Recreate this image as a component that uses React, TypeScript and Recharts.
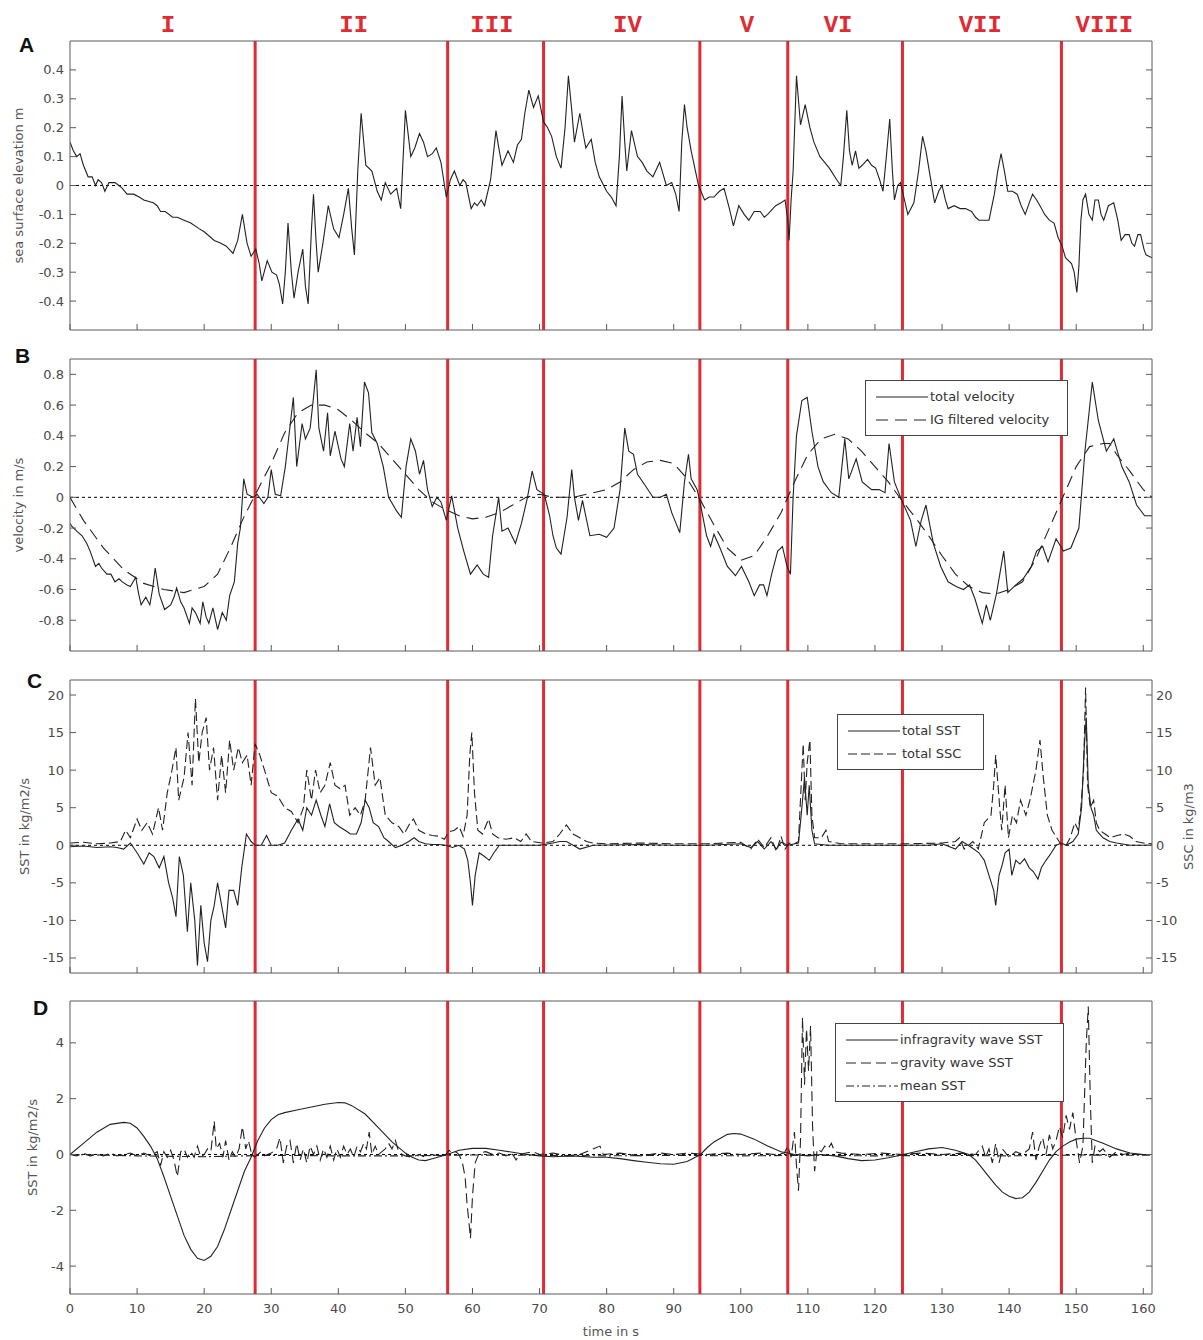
import { LineChart, Line, XAxis, YAxis, ReferenceLine, Legend } from 'recharts';

type Pt = [number, number];

const T_MAX = 161.3;
const TIME_TICKS = [0, 10, 20, 30, 40, 50, 60, 70, 80, 90, 100, 110, 120, 130, 140, 150, 160];

// phase boundaries (s) and the phase names drawn above panel A
const PHASE_BOUNDS = [27.6, 56.3, 70.6, 93.9, 107.0, 124.1, 147.8];
const PHASE_NAMES = ['I', 'II', 'III', 'IV', 'V', 'VI', 'VII', 'VIII'];
const PHASE_MID = [14.6, 42.3, 62.9, 83.1, 100.9, 114.5, 135.7, 154.2];

const ETA_TICKS = [-0.4, -0.3, -0.2, -0.1, 0, 0.1, 0.2, 0.3, 0.4];
const VEL_TICKS = [-0.8, -0.6, -0.4, -0.2, 0, 0.2, 0.4, 0.6, 0.8];
const FLUX_TICKS = [-15, -10, -5, 0, 5, 10, 15, 20];
const SPLIT_TICKS = [-4, -2, 0, 2, 4];

// A: sea surface elevation (m)
const ETA: Pt[] = [
	[0, 0.15], [0.5, 0.12], [1, 0.1], [1.5, 0.11], [2, 0.07], [2.7, 0.03], [3.3, 0.03], [3.8, 0], [4.2, 0.02], [4.7, 0.01],
	[5.2, -0.02], [5.8, 0.01], [6.7, 0.01], [7.3, 0], [7.8, -0.01], [8.5, -0.03], [9.5, -0.03], [10.3, -0.04], [11, -0.05],
	[12.4, -0.06], [13, -0.07], [13.5, -0.09], [14.2, -0.09], [15.3, -0.11], [16, -0.11], [17, -0.12], [18, -0.13],
	[19.3, -0.15], [20, -0.16], [21, -0.18], [21.5, -0.19], [22.5, -0.2], [23.3, -0.21], [24.3, -0.235], [25, -0.19],
	[25.7, -0.1], [26.4, -0.2], [27, -0.245], [27.7, -0.22], [28.2, -0.27], [28.6, -0.33], [29.4, -0.26], [30.1, -0.3],
	[30.8, -0.31], [31.2, -0.34], [31.7, -0.41], [32.1, -0.3], [32.5, -0.13], [33, -0.3], [33.4, -0.39], [34, -0.3],
	[34.7, -0.22], [35.1, -0.35], [35.5, -0.41], [36, -0.15], [36.3, -0.03], [36.7, -0.2], [37, -0.3], [37.7, -0.2],
	[38.5, -0.07], [39.3, -0.15], [40.1, -0.18], [40.8, -0.1], [41.5, -0.01], [42, -0.15], [42.4, -0.24], [42.9, 0.05],
	[43.4, 0.25], [44.1, 0.07], [45, 0.05], [45.8, -0.02], [46.4, -0.05], [47, 0.01], [47.8, -0.03], [48.7, -0.01],
	[49.3, -0.08], [50, 0.26], [50.8, 0.1], [51.4, 0.13], [52.1, 0.18], [52.7, 0.15], [53.3, 0.1], [54, 0.11], [54.6, 0.13],
	[55.3, 0.08], [56.1, -0.04], [56.7, 0.02], [57.3, 0.05], [58.1, 0], [58.6, 0.02], [59, 0.01], [59.8, -0.08], [60.3, -0.06],
	[60.7, -0.07], [61.3, -0.05], [61.8, -0.07], [62.7, 0.02], [63.5, 0.19], [64, 0.12], [64.4, 0.07], [65.3, 0.12],
	[66.1, 0.08], [66.7, 0.14], [67.3, 0.16], [67.8, 0.25], [68.4, 0.33], [69.1, 0.27], [69.8, 0.31], [70.6, 0.22],
	[71.2, 0.2], [71.8, 0.17], [72.5, 0.1], [73.2, 0.06], [73.8, 0.2], [74.3, 0.38], [74.8, 0.26], [75.2, 0.15], [76, 0.25],
	[76.5, 0.18], [76.9, 0.13], [77.7, 0.16], [78.3, 0.08], [78.9, 0.03], [80, -0.02], [80.7, -0.04], [81.4, -0.07],
	[81.9, 0.1], [82.3, 0.31], [82.7, 0.15], [83, 0.05], [83.7, 0.19], [84.6, 0.1], [85.3, 0.08], [86, 0.05], [86.9, 0.03],
	[87.9, 0.08], [88.4, 0.04], [88.9, 0], [89.7, 0.01], [90.3, -0.03], [90.8, -0.09], [91.2, 0.15], [91.6, 0.28], [92, 0.2],
	[92.6, 0.12], [93.7, 0], [94.6, -0.05], [95.3, -0.04], [96, -0.04], [96.8, -0.02], [97.5, -0.01], [98.3, -0.08],
	[98.9, -0.14], [99.7, -0.07], [100.5, -0.1], [101.2, -0.12], [102, -0.09], [102.9, -0.09], [103.5, -0.11], [104, -0.1],
	[105.2, -0.07], [106, -0.06], [106.6, -0.05], [107, -0.12], [107.2, -0.19], [107.5, -0.05], [107.8, 0.05], [108.3, 0.38],
	[108.9, 0.21], [109.6, 0.28], [110.3, 0.2], [110.9, 0.15], [111.8, 0.1], [112.5, 0.08], [113.2, 0.06], [114.3, 0.02],
	[114.9, 0], [115.3, 0.1], [115.8, 0.26], [116.2, 0.12], [116.6, 0.07], [117.1, 0.12], [117.6, 0.06], [118.1, 0.07],
	[118.9, 0.09], [119.5, 0.07], [120.1, 0.06], [120.7, 0.02], [121.2, -0.02], [121.7, 0.1], [122.2, 0.23], [122.6, 0.05],
	[122.9, -0.05], [123.4, 0], [123.8, 0.01], [124.4, -0.05], [124.9, -0.1], [125.8, -0.06], [126.5, 0.05], [127.1, 0.17],
	[127.6, 0.12], [128.1, 0.05], [128.9, -0.06], [129.5, -0.02], [130, 0], [130.5, -0.05], [130.9, -0.08], [131.8, -0.07],
	[132.7, -0.08], [133.5, -0.08], [134.4, -0.09], [135, -0.11], [135.5, -0.12], [136.3, -0.12], [137, -0.12],
	[137.8, -0.03], [138.3, 0.05], [138.8, 0.11], [139.3, 0.05], [139.8, -0.02], [140.5, -0.02], [141.2, -0.03],
	[141.8, -0.07], [142.4, -0.1], [143, -0.06], [143.5, -0.03], [144.1, -0.05], [144.6, -0.07], [145.3, -0.1], [146, -0.12],
	[146.7, -0.13], [147.3, -0.18], [147.9, -0.21], [148.4, -0.25], [149.3, -0.27], [149.7, -0.3], [150.1, -0.37],
	[150.4, -0.28], [150.7, -0.12], [151, -0.05], [151.4, -0.03], [151.9, -0.1], [152.4, -0.12], [152.8, -0.05],
	[153.3, -0.05], [153.7, -0.1], [154.1, -0.12], [154.8, -0.07], [155.6, -0.06], [156.2, -0.12], [156.7, -0.19],
	[157.3, -0.17], [157.9, -0.17], [158.3, -0.2], [158.7, -0.21], [159.2, -0.17], [159.6, -0.17], [160.1, -0.22],
	[160.4, -0.24], [161.3, -0.25],
];

// B: total velocity (m/s)
const VEL_TOTAL: Pt[] = [
	[0, -0.17], [0.3, -0.19], [1, -0.22], [1.8, -0.25], [2.5, -0.3], [3, -0.35], [3.8, -0.45], [4.3, -0.43], [4.7, -0.46],
	[5.5, -0.5], [6.1, -0.5], [6.7, -0.55], [7.3, -0.53], [7.8, -0.55], [8.5, -0.57], [9, -0.58], [9.8, -0.52], [10.2, -0.62],
	[10.6, -0.7], [11.3, -0.65], [11.9, -0.7], [12.3, -0.6], [12.7, -0.46], [13.3, -0.63], [14.1, -0.73], [15, -0.7],
	[15.5, -0.65], [15.9, -0.59], [16.5, -0.68], [17, -0.72], [17.8, -0.82], [18.2, -0.72], [18.7, -0.75], [19.4, -0.82],
	[19.8, -0.68], [20.3, -0.78], [20.7, -0.82], [21.3, -0.72], [22, -0.86], [22.7, -0.75], [23.3, -0.8], [23.8, -0.64],
	[24.5, -0.55], [25, -0.3], [25.4, -0.2], [25.9, 0.12], [26.4, 0.02], [27.3, 0], [27.9, 0.02], [28.9, -0.04], [29.5, 0],
	[30, 0.18], [30.6, 0.02], [31.4, 0.01], [32.1, 0.2], [32.9, 0.5], [33.3, 0.65], [33.8, 0.2], [34.6, 0.48], [35.1, 0.38],
	[35.8, 0.45], [36.3, 0.65], [36.7, 0.83], [37.1, 0.45], [37.8, 0.3], [38.4, 0.55], [38.8, 0.27], [39.5, 0.43],
	[40.4, 0.25], [40.9, 0.2], [41.7, 0.48], [42.2, 0.3], [42.8, 0.52], [43.3, 0.33], [43.9, 0.75], [44.5, 0.68], [45, 0.42],
	[45.8, 0.35], [46.7, 0.2], [47.5, 0], [48.7, -0.09], [49.4, -0.13], [50.1, 0.2], [50.8, 0.38], [51.5, 0.3], [52.1, 0.15],
	[52.7, 0.24], [53.3, 0.05], [54, -0.06], [54.7, 0], [55.3, -0.03], [56.1, -0.15], [56.9, 0.01], [57.8, -0.2],
	[58.7, -0.35], [59.7, -0.5], [60.7, -0.44], [61.6, -0.5], [62.4, -0.52], [63, -0.25], [63.9, 0], [64.4, -0.22],
	[65.3, -0.2], [66.4, -0.3], [67.3, -0.17], [68.2, 0], [68.9, 0.17], [69.6, 0.05], [70.7, 0.02], [71.5, -0.12],
	[72, -0.25], [72.5, -0.33], [73.2, -0.37], [74.1, -0.13], [74.8, 0.18], [75.2, 0], [75.8, -0.15], [76.4, -0.02],
	[77.5, -0.25], [78.9, -0.24], [80, -0.26], [81.1, -0.2], [82, 0.05], [82.7, 0.45], [83.3, 0.3], [84, 0.28], [84.6, 0.15],
	[85.7, 0.08], [86.9, 0], [88, 0], [88.9, 0.02], [89.7, -0.1], [90.9, -0.23], [91.6, 0.1], [92.2, 0.28], [92.6, 0.12],
	[93.5, 0.05], [94, -0.05], [94.9, -0.25], [95.5, -0.32], [96, -0.24], [96.9, -0.33], [98, -0.45], [99.2, -0.51],
	[100.1, -0.45], [101.2, -0.55], [102, -0.64], [102.8, -0.57], [103.4, -0.57], [103.9, -0.64], [104.6, -0.5],
	[105.5, -0.35], [106.2, -0.32], [106.9, -0.45], [107.4, -0.5], [107.8, 0], [108.3, 0.4], [109.1, 0.63], [109.9, 0.65],
	[110.6, 0.43], [111.5, 0.2], [112.3, 0.1], [113.5, 0.03], [114.6, 0], [115.5, 0.38], [116.1, 0.12], [117.2, 0.25],
	[118.1, 0.1], [119.5, 0.05], [120.6, 0.05], [121.5, 0.03], [122.1, 0.35], [122.9, 0.1], [123.8, 0], [124.6, -0.08],
	[125.3, -0.15], [126.1, -0.32], [126.9, -0.15], [127.6, -0.05], [128.7, -0.3], [129.8, -0.45], [130.9, -0.55],
	[132.1, -0.58], [133.2, -0.6], [134.1, -0.57], [134.9, -0.66], [136, -0.82], [136.6, -0.7], [137.2, -0.8],
	[138.1, -0.63], [139.2, -0.35], [139.8, -0.62], [141, -0.57], [142.1, -0.53], [143.3, -0.45], [144.1, -0.35],
	[145, -0.32], [145.8, -0.42], [147, -0.27], [148.1, -0.35], [149.2, -0.33], [150.4, -0.2], [151.3, 0.3], [152.4, 0.75],
	[153.3, 0.5], [154.5, 0.3], [155.6, 0.38], [156.8, 0.2], [157.9, 0.1], [159, -0.05], [160.2, -0.12], [161.3, -0.12],
];

// B: infragravity-band filtered velocity (m/s)
const VEL_IG: Pt[] = [
	[0, 0], [2, -0.15], [5, -0.33], [8, -0.47], [11, -0.56], [14, -0.6], [17, -0.62], [20, -0.58], [22, -0.5], [24, -0.32],
	[26, -0.12], [28, 0.05], [30, 0.22], [32, 0.42], [34, 0.55], [36, 0.6], [38, 0.6], [40, 0.57], [42, 0.5], [44, 0.42],
	[46, 0.35], [48, 0.25], [50, 0.15], [52, 0.05], [54, -0.03], [56, -0.08], [58, -0.12], [60, -0.14], [62, -0.13],
	[64, -0.1], [66, -0.05], [68, 0], [70, 0.02], [72, 0], [75, 0], [78, 0.03], [80, 0.05], [82, 0.1], [84, 0.18],
	[86, 0.23], [88, 0.24], [90, 0.22], [92, 0.12], [94, -0.02], [96, -0.18], [98, -0.33], [100, -0.41], [102, -0.38],
	[104, -0.25], [106, -0.1], [108, 0.1], [110, 0.28], [112, 0.38], [114, 0.41], [116, 0.38], [118, 0.3], [120, 0.2],
	[122, 0.1], [124, -0.02], [126, -0.13], [128, -0.25], [130, -0.38], [132, -0.5], [134, -0.58], [136, -0.62],
	[138, -0.63], [140, -0.6], [142, -0.55], [144, -0.4], [146, -0.2], [148, 0], [150, 0.2], [152, 0.33], [154, 0.35],
	[155, 0.35], [156, 0.28], [158, 0.17], [160, 0.05], [161.3, 0],
];

// C: total sediment transport (kg/m2/s)
const SST_TOTAL: Pt[] = [
	[0, -0.2], [2, -0.1], [4, -0.3], [6, -0.2], [7, -0.3], [8, -0.5], [9, 0.3], [10, -1], [11, -2.5], [11.8, -1], [12.5, -1.5],
	[13.3, -3], [14, -1.5], [14.7, -5], [15.3, -7], [15.8, -9.5], [16.3, -1.5], [16.9, -4], [17.5, -11.5], [18, -5],
	[18.6, -10], [19, -16], [19.5, -8], [20, -13], [20.5, -15.5], [21, -10], [21.5, -8], [22, -5], [22.6, -8], [23.2, -11],
	[23.7, -6], [24.4, -6], [25, -8], [25.6, -3], [26.3, 1.5], [27, 0.5], [27.6, 0], [28.5, 0], [29.3, 1.3], [30, 0], [31, 0],
	[32, 0.3], [33, 2], [34, 3.5], [34.7, 2], [35.3, 5], [36, 4], [36.7, 6], [37.4, 4], [38, 2.5], [38.7, 5.5], [39.4, 3],
	[40.1, 2.5], [41, 2], [41.8, 1.5], [42.7, 1.5], [43.4, 3], [44, 6], [44.6, 5], [45.2, 3], [46, 2.5], [46.8, 1], [47.5, 0.5],
	[48.5, -0.3], [49.5, 0], [50.5, 0.5], [51.3, 1], [52, 0.5], [53, 0.2], [54, 0.1], [55, 0.1], [56, 0], [57, -0.3], [58, 0],
	[58.8, -0.5], [59.3, -2], [59.7, -5], [60, -8], [60.4, -4], [61, -1], [61.8, -1.5], [62.5, -2], [63.2, -1], [64, 0],
	[66, 0], [70, 0], [72, 0.3], [73, 0.5], [74, 0.5], [75, 0], [76, -0.5], [78, 0], [85, 0.1], [90, 0], [95, 0], [100, 0.2],
	[101.5, -0.3], [102.5, 0.5], [103.5, -0.5], [104.5, 0.5], [105.3, -0.5], [106, 0.4], [107, 0], [108.6, 0.3], [109, 4],
	[109.3, 7], [109.5, 9], [109.9, 4], [110.2, 8], [110.6, 2], [111, 0.2], [113, 0], [120, 0], [128, 0], [130, 0.2],
	[132, -0.5], [133, 0.5], [134.4, -0.3], [135.5, -1], [136.3, -2], [137, -4], [137.7, -6], [138, -8], [138.5, -4],
	[139, -2.5], [139.4, -1], [140, -0.5], [140.4, -4], [141, -2], [141.6, -2.5], [142.3, -1.8], [143, -3], [143.6, -3.5],
	[144.3, -4.5], [144.8, -3], [145.5, -2], [146.3, -1], [147, 0], [147.8, 0.3], [148.5, 0], [149.5, 0.5], [150.3, 1.5],
	[150.8, 5], [151.2, 13], [151.5, 17], [151.8, 8], [152.2, 5], [152.6, 4], [153, 2], [153.5, 1.5], [154, 1], [155, 0.5],
	[156, 0.3], [158, 0], [161.3, 0],
];

// C: total suspended sediment concentration (kg/m3)
const SSC_TOTAL: Pt[] = [
	[0, 0.3], [2, 0.4], [4, 0.2], [6, 0.3], [7.5, 0.5], [8.3, 2], [9, 1], [10, 3.5], [10.7, 2], [11.5, 3], [12.3, 1.5],
	[13.2, 5], [13.8, 2], [14.5, 7], [15.2, 10], [15.8, 13], [16.2, 6], [17, 9], [17.6, 15], [18.2, 8], [18.7, 19.5],
	[19.2, 11], [19.7, 15], [20.3, 17], [20.8, 10], [21.4, 13], [22, 6], [22.6, 12], [23.2, 7], [23.8, 14], [24.4, 10],
	[25.1, 13], [25.7, 11], [26.4, 12], [27, 8], [27.6, 13.5], [28.3, 12], [29, 10], [30, 7], [31, 6.5], [32, 5], [33, 4.5],
	[34, 3], [34.8, 5], [35.3, 10], [36, 6], [36.6, 10], [37.3, 7], [38, 8], [38.8, 11], [39.5, 8], [40.3, 7.5], [41, 8],
	[41.7, 4], [42.5, 5], [43.3, 4], [44, 6], [44.8, 13], [45.5, 8], [46.2, 9], [47, 4], [48, 3], [49, 2.5], [49.8, 1.5],
	[50.6, 2.8], [51.2, 3.5], [52, 2], [53, 1.5], [54, 1.3], [55, 1.2], [55.8, 0.8], [56.5, 1.8], [57.3, 2], [58, 2.5],
	[58.6, 1.2], [59.2, 4], [59.6, 12], [59.9, 15], [60.3, 7], [60.8, 2], [61.5, 1.5], [62.4, 3.5], [63, 1.5], [63.8, 1],
	[65, 0.8], [66.2, 1], [67.2, 0.5], [68, 1.5], [68.8, 0.5], [70.5, 0.3], [72, 0.5], [73, 1.5], [74, 2.7], [75, 1.5],
	[76, 1], [77, 0.5], [78, 0.3], [80, 0.2], [85, 0.3], [90, 0.2], [95, 0.2], [100, 0.4], [101.5, -0.5], [102.5, 0.8],
	[103.5, -0.3], [104.5, 1], [105.3, -0.8], [106, 1.2], [106.6, -0.5], [107.2, 0.3], [108, 0.2], [108.6, 0.5], [109, 8],
	[109.3, 13.5], [109.6, 6], [109.9, 11], [110.3, 14], [110.6, 4], [111, 1], [112, 1], [112.7, 2], [113.1, 0.5],
	[115, 0.2], [120, 0.2], [125, 0.2], [130, 0.3], [132, 0.5], [132.6, 1], [133.3, -0.5], [134.6, 0.5], [135.4, -0.5],
	[136.3, 3], [137.3, 4], [137.7, 8], [138, 12], [138.6, 5], [138.9, 2], [139.4, 8], [139.9, 1], [140.5, 4], [141.1, 3],
	[141.7, 6], [142.5, 4], [143.1, 6], [144, 10], [144.6, 14], [145.1, 9], [145.7, 4], [146.4, 2], [147.1, 1], [147.8, 0],
	[148.5, 0], [149.1, 1], [149.8, 3], [150.3, 2], [150.7, 5], [151.1, 10], [151.4, 21], [151.7, 8], [152.1, 5], [152.6, 6],
	[153, 3], [153.5, 2], [154.3, 1.5], [155.1, 1], [156.1, 1.3], [157.1, 1.5], [158, 1.2], [158.9, 0.5], [160, 0.3],
	[161.3, 0.2],
];

// D: transport split into infragravity, gravity and mean parts (kg/m2/s)
const SST_IG: Pt[] = [
	[0, 0], [2, 0.4], [4, 0.8], [6, 1.08], [8, 1.15], [9, 1.12], [10, 0.95], [11, 0.65], [12, 0.3], [13, -0.15], [14, -0.8],
	[15, -1.5], [16, -2.2], [17, -2.9], [18, -3.4], [19, -3.72], [20, -3.8], [21, -3.65], [22, -3.3], [23, -2.7], [24, -2],
	[25, -1.3], [26, -0.6], [27, -0.1], [28, 0.5], [29, 0.95], [30, 1.25], [31, 1.42], [32, 1.5], [34, 1.6], [36, 1.7],
	[38, 1.8], [40, 1.86], [41, 1.85], [42, 1.75], [44, 1.45], [46, 0.95], [48, 0.45], [50, 0.05], [51, -0.1], [52, -0.2],
	[53, -0.22], [54, -0.15], [56, -0.02], [58, 0.15], [60, 0.22], [62, 0.22], [64, 0.15], [66, 0.08], [68, 0], [70, -0.05],
	[72, -0.08], [75, -0.05], [78, -0.1], [80, -0.1], [82, -0.15], [84, -0.22], [86, -0.28], [88, -0.33], [90, -0.35],
	[92, -0.25], [94, 0], [95, 0.25], [96, 0.45], [98, 0.72], [99, 0.75], [100, 0.73], [102, 0.55], [104, 0.3], [106, 0.1],
	[107, 0.05], [108, 0], [110, -0.05], [112, 0], [114, -0.05], [116, -0.15], [118, -0.22], [120, -0.2], [122, -0.12],
	[124, -0.02], [126, 0.1], [128, 0.2], [130, 0.25], [132, 0.15], [134, 0], [135, -0.2], [136, -0.5], [137, -0.8],
	[138, -1.1], [139, -1.35], [140, -1.5], [141, -1.58], [142, -1.55], [143, -1.35], [144, -1], [145, -0.6], [146, -0.2],
	[147, 0.1], [148, 0.3], [149, 0.45], [150, 0.55], [151, 0.58], [152, 0.58], [154, 0.4], [156, 0.2], [158, 0.05],
	[160, 0], [161.3, 0],
];

const SST_GRAVITY: Pt[] = [
	[0, 0], [1, -0.05], [2, 0.05], [3, -0.05], [4, 0], [5, -0.05], [6, 0.05], [7, -0.05], [8, 0], [9, 0.05], [10, -0.05],
	[11, 0.05], [12, -0.05], [13, 0.1], [13.5, -0.4], [14, 0.1], [14.5, -0.1], [15, 0.15], [15.5, -0.2], [16, -0.8],
	[16.5, 0.1], [17, 0.2], [17.5, -0.1], [18, 0.1], [18.5, -0.1], [19, 0.3], [19.5, -0.1], [20, 0], [20.5, 0.2], [21, 0.1],
	[21.5, 1.2], [21.8, 0.2], [22.3, 0.4], [22.8, -0.1], [23.2, 0.5], [23.7, -0.2], [24.2, 0.1], [24.7, -0.1], [25.2, 0.2],
	[25.7, 1], [26.2, 0.2], [26.6, 0.5], [27, 0.1], [27.5, -0.1], [28, 0], [28.5, 0.1], [29, -0.05], [30, 0.05], [30.8, 0.2],
	[31.3, 0.6], [31.8, -0.3], [32.3, 0.3], [32.8, 0.5], [33.3, -0.3], [33.8, 0.4], [34.3, -0.2], [34.8, 0.2], [35.3, -0.3],
	[35.8, 0.3], [36.3, 0], [36.8, 0.3], [37.3, -0.2], [37.8, 0.2], [38.3, -0.1], [38.8, 0.3], [39.3, -0.2], [39.8, 0.2],
	[40.3, -0.1], [40.8, 0.3], [41.3, 0], [41.8, 0.2], [42.3, -0.1], [42.8, 0.3], [43.3, 0.1], [43.8, 0.4], [44.2, 0.2],
	[44.6, 0.8], [45, 0], [45.5, 0.3], [46, 0], [46.5, 0.1], [47, 0.2], [47.5, 0.4], [48, 0.2], [48.5, 0.5], [49, 0.1],
	[49.5, 0], [50, -0.05], [51, -0.1], [52, 0], [53, -0.1], [54, 0], [55, -0.05], [56, 0], [56.5, 0.15], [57, 0.05],
	[57.5, 0.1], [58, 0], [58.5, -0.3], [58.9, -0.8], [59.2, -1.8], [59.5, -2.5], [59.7, -3], [60, -1.5], [60.4, -0.3],
	[61, 0.05], [62, 0.1], [63, 0], [64, 0.05], [65, -0.05], [66, 0], [66.5, -0.2], [67, 0], [68, 0.05], [69, 0.1], [70, 0],
	[72, 0.05], [74, -0.05], [76, 0], [79, 0.3], [79.5, 0], [82, 0.05], [85, -0.05], [88, 0.05], [90, 0], [92, 0.05], [95, 0],
	[98, 0.05], [100, 0], [103, 0.05], [105, 0], [106.5, 0.05], [107, 0.3], [107.5, -0.1], [108, 0.8], [108.3, -0.4],
	[108.6, -1.3], [108.9, 0.5], [109.2, 4.9], [109.5, 2.5], [109.8, 4.5], [110.1, 3], [110.4, 4.6], [110.7, 1], [111, -0.6],
	[111.4, 0.2], [112, 0.1], [112.5, 0.3], [113, 0.2], [113.5, 0.4], [114, 0.1], [115, 0.05], [118, 0], [121, 0.05],
	[124, 0], [127, 0.05], [130, 0], [133, 0.05], [135, 0], [136, 0.3], [136.5, -0.1], [137, 0.2], [137.5, -0.3], [138, 0.4],
	[138.5, -0.3], [139, 0.2], [140, -0.1], [141, 0.1], [142, 0], [143, 0.2], [143.5, 0.8], [144, -0.2], [144.5, 0.3],
	[145, 0.6], [145.5, 0], [146, 0.7], [146.5, 0.2], [147, 0.5], [147.5, 1], [148, 0.6], [148.5, 1.4], [149, 0.9],
	[149.5, 1.5], [150, 0.5], [150.5, -0.3], [151, 0.3], [151.5, 4], [151.8, 5.3], [152.1, 2], [152.4, -0.3], [152.8, 0.3],
	[153.5, 0.1], [154, 0.2], [155, -0.1], [156, 0.1], [157, 0], [158, 0.05], [159, 0], [161.3, 0],
];

const SST_MEAN: Pt[] = [
	[0, 0], [10, -0.05], [20, -0.08], [30, -0.03], [40, -0.05], [50, -0.05], [60, -0.02], [70, -0.03], [80, -0.05],
	[90, -0.03], [100, -0.05], [110, -0.03], [120, -0.05], [130, -0.03], [140, -0.05], [150, -0.02], [161.3, -0.03],
];

const FONT = "'DejaVu Sans', 'Liberation Sans', sans-serif";
const INK = '#222';
const FRAME = '#5a5a5a';
const RED = '#df2b33';
const TICK_LEN = 6;
const TICK_GAP = 4;

const DASH: Record<string, string | undefined> = {
	'total velocity': undefined,
	'IG filtered velocity': '12 7',
	'total SST': undefined,
	'total SSC': '9 4',
	'infragravity wave SST': undefined,
	'gravity wave SST': '10 5',
	'mean SST': '8 3 2 3',
};
const LEGEND_ORDER = Object.keys(DASH);

const pts = (a: Pt[]) => a.map(([t, v]) => ({ t, v }));

type Side = 'left' | 'right' | 'top' | 'bottom';

// ticks point into the plot box; labels (if any) sit outside it
const inwardTick = (side: Side, labelled: boolean) => (props: any) => {
	const { x, y, payload } = props;
	const text = String(payload.value);
	const textProps = { fontSize: 13, fill: '#4a4a4a', fontFamily: FONT };
	if (side === 'left') {
		const ax = x + TICK_GAP;
		return (
			<g>
				<line x1={ax} y1={y} x2={ax + TICK_LEN} y2={y} stroke={FRAME} />
				{labelled && <text x={ax - 6} y={y} textAnchor='end' dominantBaseline='central' {...textProps}>{text}</text>}
			</g>
		);
	}
	if (side === 'right') {
		const ax = x - TICK_GAP;
		return (
			<g>
				<line x1={ax} y1={y} x2={ax - TICK_LEN} y2={y} stroke={FRAME} />
				{labelled && <text x={ax + 4} y={y} textAnchor='start' dominantBaseline='central' {...textProps}>{text}</text>}
			</g>
		);
	}
	if (side === 'top') {
		const ay = y + TICK_GAP;
		return <line x1={x} y1={ay} x2={x} y2={ay + TICK_LEN} stroke={FRAME} />;
	}
	const ay = y - TICK_GAP;
	return (
		<g>
			<line x1={x} y1={ay} x2={x} y2={ay - TICK_LEN} stroke={FRAME} />
			{labelled && <text x={x} y={ay + 14} textAnchor='middle' dominantBaseline='central' {...textProps}>{text}</text>}
		</g>
	);
};

// rotated axis title, centred on the axis band
const axisTitle = (text: string, dx: number) => (props: any) => {
	const vb = props.viewBox;
	const x = vb.x + dx;
	const y = vb.y + vb.height / 2;
	return (
		<text x={x} y={y} transform={`rotate(-90 ${x} ${y})`} textAnchor='middle' dominantBaseline='central' fontSize={13} fill='#555' fontFamily={FONT}>
			{text}
		</text>
	);
};

interface FrameOpts {
	domain: [number, number];
	ticks: number[];
	title: string;
	titleX: number;
	xLabels?: boolean;
	rightTitle?: string;
	bottomHeight?: number;
}

// boxed frame with inward ticks on all four sides
function frameAxes({ domain, ticks, title, titleX, xLabels = false, rightTitle, bottomHeight = 1 }: FrameOpts) {
	const shared = { allowDataOverflow: true, interval: 0 as const, stroke: FRAME, tickLine: false, tickSize: 0, tickMargin: TICK_GAP };
	return [
		<XAxis
			key='xb'
			type='number'
			dataKey='t'
			domain={[0, T_MAX]}
			ticks={TIME_TICKS}
			height={bottomHeight}
			{...shared}
			tick={inwardTick('bottom', xLabels)}
			label={xLabels ? { value: 'time in s', position: 'insideBottom', offset: 4, fontSize: 13, fill: '#555', fontFamily: FONT } : undefined}
		/>,
		<XAxis key='xt' xAxisId='top' orientation='top' type='number' domain={[0, T_MAX]} ticks={TIME_TICKS} height={1} {...shared} tick={inwardTick('top', false)} />,
		<YAxis key='yl' yAxisId='l' type='number' domain={domain} ticks={ticks} width={70} {...shared} tick={inwardTick('left', true)} label={axisTitle(title, titleX)} />,
		<YAxis
			key='yr'
			yAxisId='r'
			orientation='right'
			type='number'
			domain={domain}
			ticks={ticks}
			width={51}
			{...shared}
			tick={inwardTick('right', !!rightTitle)}
			label={rightTitle ? axisTitle(rightTitle, 36) : undefined}
		/>,
	];
}

// zero line, phase boundaries and (optionally) phase names
function phaseMarks(withNames: boolean) {
	const out = [
		<ReferenceLine key='zero' yAxisId='l' y={0} stroke='#000' strokeDasharray='3 3' strokeWidth={1} />,
		...PHASE_BOUNDS.map((x, i) => <ReferenceLine key={'b' + i} yAxisId='l' x={x} stroke={RED} strokeWidth={3} />),
	];
	if (withNames) {
		PHASE_NAMES.forEach((name, i) => {
			out.push(
				<ReferenceLine
					key={'n' + i}
					yAxisId='l'
					x={PHASE_MID[i]}
					stroke='none'
					label={{ value: name, position: 'top', offset: 9, fill: RED, fontSize: 24, fontWeight: 700, fontFamily: "'Liberation Mono', 'Courier New', monospace" }}
				/>
			);
		});
	}
	return out;
}

function BoxLegend({ payload, width }: { payload?: any[]; width: number }) {
	const items = [...(payload ?? [])].sort((a, b) => LEGEND_ORDER.indexOf(a.value) - LEGEND_ORDER.indexOf(b.value));
	return (
		<div style={{ width, boxSizing: 'border-box', border: '1px solid #444', background: '#fff', padding: '4px 6px 4px 10px', fontFamily: FONT, fontSize: 13, color: '#333' }}>
			{items.map((e) => (
				<div key={e.value} style={{ display: 'flex', alignItems: 'center', height: 23 }}>
					<svg width={54} height={10} style={{ flex: 'none' }}>
						<line x1={0} y1={5} x2={52} y2={5} stroke={INK} strokeWidth={1} strokeDasharray={DASH[e.value]} />
					</svg>
					<span style={{ whiteSpace: 'nowrap' }}>{e.value}</span>
				</div>
			))}
		</div>
	);
}

const lineProps = { dataKey: 'v', type: 'linear' as const, dot: false, activeDot: false, stroke: INK, strokeWidth: 1.1, isAnimationActive: false };

const letterStyle = (left: number, top: number): React.CSSProperties => ({
	position: 'absolute',
	left,
	top,
	fontFamily: "'Liberation Sans', Arial, sans-serif",
	fontWeight: 700,
	fontSize: 21,
	lineHeight: 1,
	color: '#111',
});

export default function App() {
	return (
		<div style={{ position: 'absolute', left: 0, top: 0, width: 1203, height: 1340, background: '#fff', overflow: 'hidden' }}>
			<div style={{ position: 'absolute', left: 0, top: 0 }}>
				<LineChart width={1203} height={332} margin={{ top: 40, right: 0, bottom: 1, left: 0 }}>
					{frameAxes({ domain: [-0.5, 0.5], ticks: ETA_TICKS, title: 'sea surface elevation m', titleX: 18 })}
					{phaseMarks(true)}
					<Line yAxisId='l' data={pts(ETA)} name='sea surface elevation' {...lineProps} />
				</LineChart>
			</div>

			<div style={{ position: 'absolute', left: 0, top: 340 }}>
				<LineChart width={1203} height={312} margin={{ top: 18, right: 0, bottom: 0, left: 0 }}>
					{frameAxes({ domain: [-1, 0.9], ticks: VEL_TICKS, title: 'velocity in m/s', titleX: 18 })}
					{phaseMarks(false)}
					<Line yAxisId='l' data={pts(VEL_TOTAL)} name='total velocity' {...lineProps} />
					<Line yAxisId='l' data={pts(VEL_IG)} name='IG filtered velocity' {...lineProps} strokeDasharray={DASH['IG filtered velocity']} />
					<Legend layout='vertical' align='center' verticalAlign='middle' wrapperStyle={{ left: 865, top: 40, width: 203 }} content={(p: any) => <BoxLegend payload={p.payload} width={203} />} />
				</LineChart>
			</div>

			<div style={{ position: 'absolute', left: 0, top: 660 }}>
				<LineChart width={1203} height={316} margin={{ top: 19, right: 0, bottom: 2, left: 0 }}>
					{frameAxes({ domain: [-17, 22], ticks: FLUX_TICKS, title: 'SST in kg/m2/s', titleX: 24, rightTitle: 'SSC in kg/m3' })}
					{phaseMarks(false)}
					<Line yAxisId='l' data={pts(SST_TOTAL)} name='total SST' {...lineProps} />
					<Line yAxisId='r' data={pts(SSC_TOTAL)} name='total SSC' {...lineProps} strokeDasharray={DASH['total SSC']} />
					<Legend layout='vertical' align='center' verticalAlign='middle' wrapperStyle={{ left: 837, top: 54, width: 147 }} content={(p: any) => <BoxLegend payload={p.payload} width={147} />} />
				</LineChart>
			</div>

			<div style={{ position: 'absolute', left: 0, top: 980 }}>
				<LineChart width={1203} height={360} margin={{ top: 20, right: 0, bottom: 0, left: 0 }}>
					{frameAxes({ domain: [-5, 5.5], ticks: SPLIT_TICKS, title: 'SST in kg/m2/s', titleX: 32, xLabels: true, bottomHeight: 46 })}
					{phaseMarks(false)}
					<Line yAxisId='l' data={pts(SST_IG)} name='infragravity wave SST' {...lineProps} />
					<Line yAxisId='l' data={pts(SST_GRAVITY)} name='gravity wave SST' {...lineProps} strokeDasharray={DASH['gravity wave SST']} />
					<Line yAxisId='l' data={pts(SST_MEAN)} name='mean SST' {...lineProps} strokeDasharray={DASH['mean SST']} />
					<Legend layout='vertical' align='center' verticalAlign='middle' wrapperStyle={{ left: 835, top: 43, width: 229 }} content={(p: any) => <BoxLegend payload={p.payload} width={229} />} />
				</LineChart>
			</div>

			<div style={letterStyle(19, 34)}>A</div>
			<div style={letterStyle(15, 345)}>B</div>
			<div style={letterStyle(27, 670)}>C</div>
			<div style={letterStyle(33, 997)}>D</div>
		</div>
	);
}
